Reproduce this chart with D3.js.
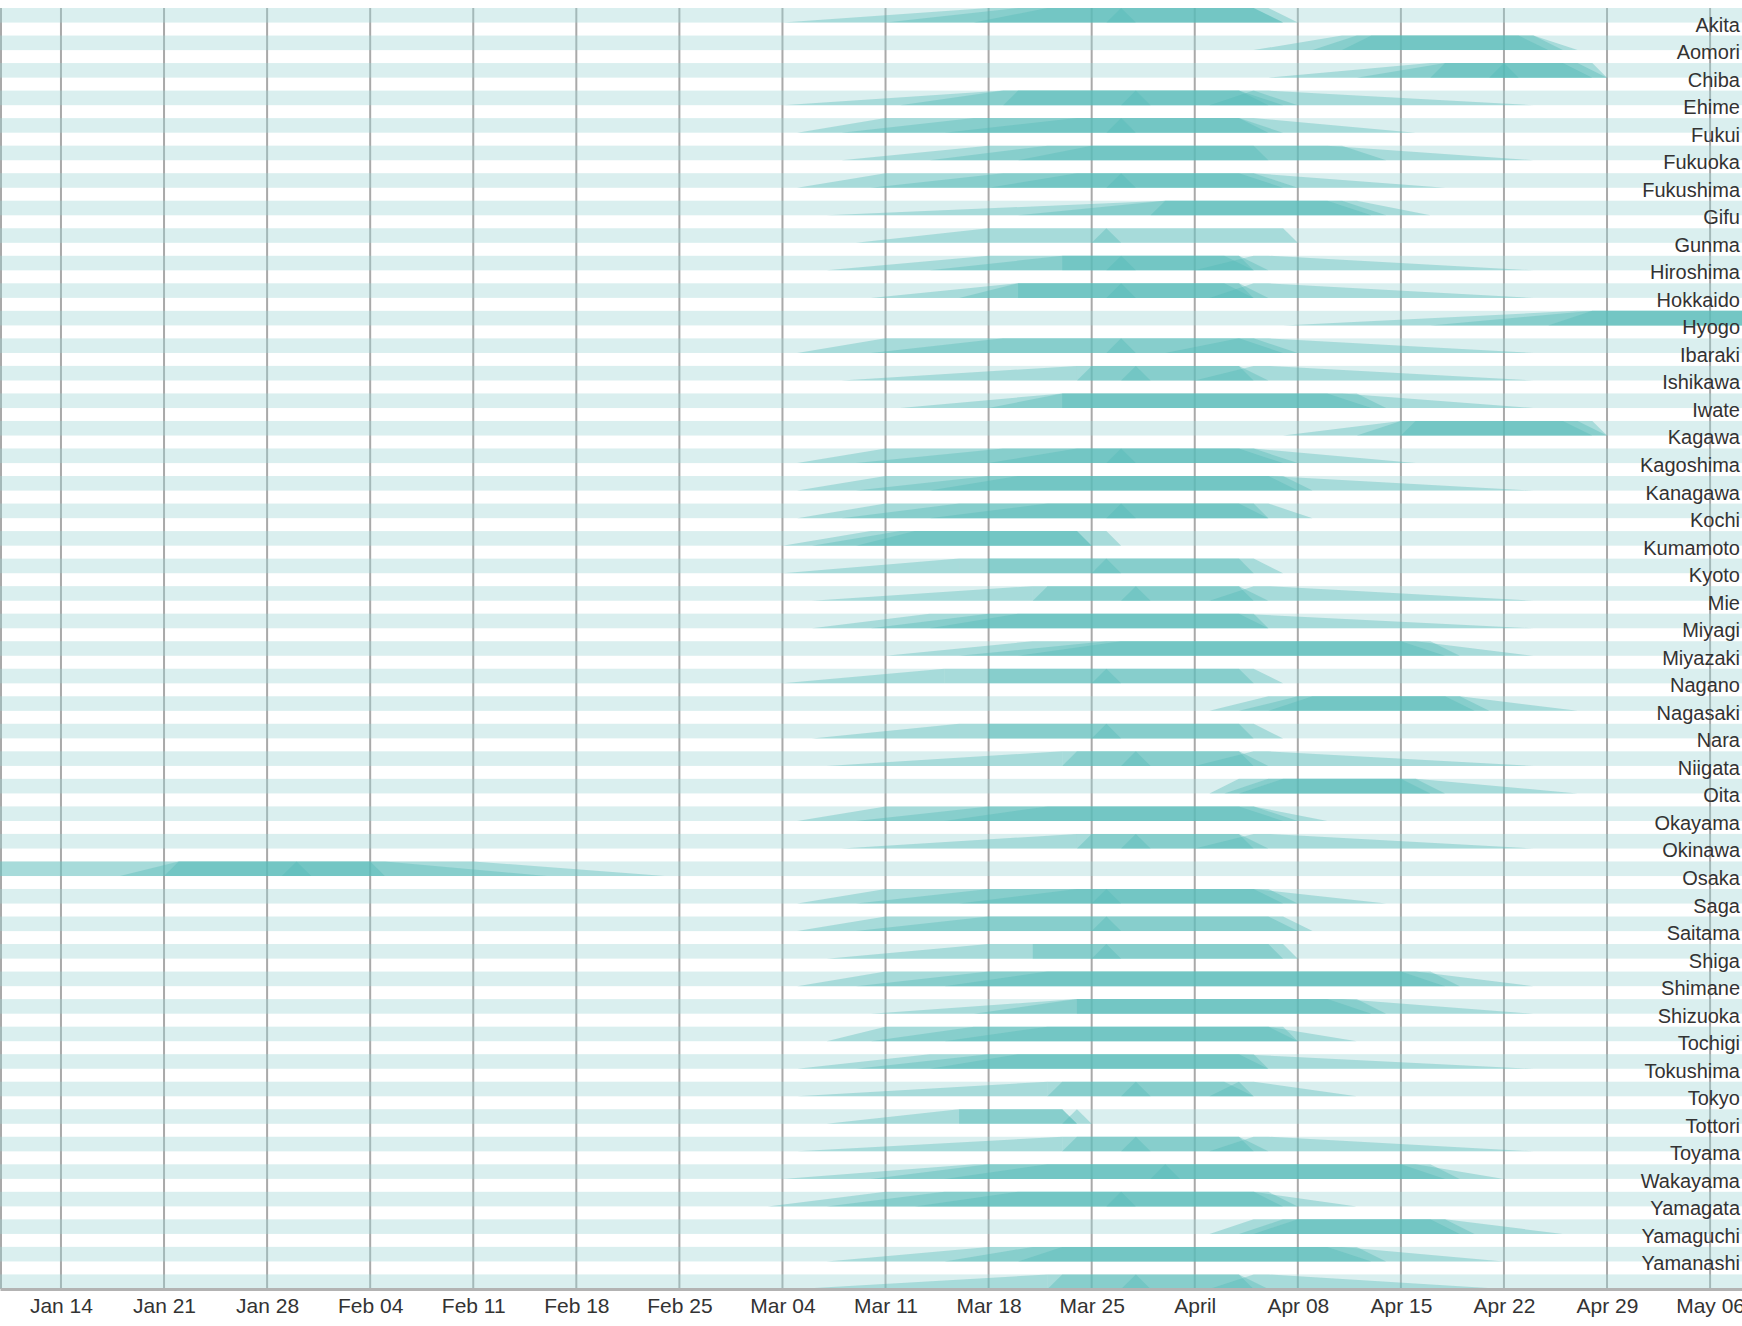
<!DOCTYPE html>
<html>
<head>
<meta charset="utf-8">
<script src="https://cdn.jsdelivr.net/npm/d3@7"></script>
<style>
  body { margin: 0; background: #fff; }
  svg text { font-family: "Liberation Sans", Arial, sans-serif; }
</style>
</head>
<body>
<svg id="chart"></svg>
<script>
const prefectures = [
  "Aichi", "Akita", "Aomori", "Chiba", "Ehime", "Fukui", "Fukuoka", "Fukushima",
  "Gifu", "Gunma", "Hiroshima", "Hokkaido", "Hyogo", "Ibaraki", "Ishikawa", "Iwate",
  "Kagawa", "Kagoshima", "Kanagawa", "Kochi", "Kumamoto", "Kyoto", "Mie", "Miyagi",
  "Miyazaki", "Nagano", "Nagasaki", "Nara", "Niigata", "Oita", "Okayama", "Okinawa",
  "Osaka", "Saga", "Saitama", "Shiga", "Shimane", "Shizuoka", "Tochigi", "Tokushima",
  "Tokyo", "Tottori", "Toyama", "Wakayama", "Yamagata", "Yamaguchi", "Yamanashi"
];

// bloom records per prefecture: [first bloom, full bloom, bloom ends, petals gone] (2018)
const aichi = [["03-04","03-18","04-06","04-08"], ["03-11","03-20","04-05","04-07"], ["03-17","03-22","04-05","04-07"], ["03-26","03-27","03-27","03-28"]];
const akita = [["04-05","04-11","04-24","04-27"], ["04-09","04-12","04-24","04-26"], ["04-11","04-13","04-23","04-25"]];
const aomori = [["04-06","04-17","04-28","04-29"], ["04-12","04-18","04-27","04-29"], ["04-17","04-18","04-26","04-28"], ["04-21","04-22","04-22","04-23"]];
const chiba = [["03-04","03-19","04-05","04-08"], ["03-12","03-19","04-04","04-07"], ["03-19","03-20","04-04","04-06"], ["03-27","03-28","03-28","03-29"], ["04-02","04-05","04-06","04-24"]];
const ehime = [["03-05","03-11","04-04","04-07"], ["03-08","03-17","04-04","04-06"], ["03-26","03-27","03-27","03-28"], ["03-15","03-24","04-05","04-16"]];
const fukui = [["03-08","03-18","04-11","04-14"], ["03-14","03-22","04-10","04-24"], ["03-20","03-25","04-05","04-06"]];
const fukuoka = [["03-05","03-11","04-05","04-08"], ["03-10","03-19","04-04","04-07"], ["03-26","03-27","03-27","03-28"], ["03-18","03-24","04-05","04-18"]];
const fukushima = [["03-07","03-30","04-12","04-17"], ["03-20","03-30","04-11","04-14"], ["03-29","03-30","04-10","04-13"]];
const gifu = [["03-09","03-18","03-18","03-18"], ["03-18","03-18","04-07","04-08"], ["03-25","03-26","03-26","03-27"]];
const gunma = [["03-07","03-18","04-04","04-06"], ["03-14","03-23","04-03","04-05"], ["03-23","03-23","04-04","04-05"], ["03-26","03-27","03-27","03-28"], ["04-01","04-05","04-06","04-24"]];
const hiroshima = [["03-10","03-20","04-04","04-06"], ["03-16","03-20","04-03","04-05"], ["03-20","03-20","04-04","04-05"], ["03-26","03-27","03-27","03-28"], ["04-02","04-05","04-06","04-24"]];
const hokkaido = [["04-07","04-27","05-12","05-14"], ["04-17","04-28","05-12","05-14"], ["04-25","04-28","05-12","05-14"]];
const hyogo = [["03-05","03-11","04-05","04-08"], ["03-10","03-19","04-04","04-07"], ["03-26","03-27","03-27","03-28"], ["03-30","04-04","04-06","04-24"]];
const ibaraki = [["03-08","03-24","03-24","03-24"], ["03-24","03-24","04-04","04-06"], ["03-24","03-25","04-04","04-05"], ["03-27","03-28","03-28","03-29"], ["04-01","04-05","04-06","04-24"]];
const ishikawa = [["03-12","03-23","04-12","04-14"], ["03-18","03-23","04-11","04-24"], ["03-23","03-23","04-10","04-13"]];
const iwate = [["04-07","04-15","04-28","04-29"], ["04-12","04-15","04-27","04-29"], ["04-15","04-16","04-26","04-28"]];
const kagawa = [["03-05","03-11","04-05","04-08"], ["03-09","03-19","04-04","04-07"], ["03-26","03-27","03-27","03-28"], ["03-18","03-24","04-05","04-16"]];
const kagoshima = [["03-05","03-11","04-07","04-09"], ["03-09","03-18","04-06","04-24"], ["03-14","03-20","04-06","04-08"]];
const kanagawa = [["03-05","03-11","04-05","04-06"], ["03-08","03-16","04-04","04-06"], ["03-26","03-27","03-27","03-28"], ["03-14","03-22","04-06","04-09"]];
const kochi = [["03-04","03-10","03-26","03-27"], ["03-06","03-12","03-24","03-25"], ["03-09","03-13","03-24","03-25"]];
const kumamoto = [["03-04","03-16","03-16","03-16"], ["03-16","03-16","04-05","04-07"], ["03-18","03-18","04-04","04-05"], ["03-25","03-26","03-26","03-27"]];
const kyoto = [["03-06","03-21","03-21","03-21"], ["03-21","03-21","04-04","04-06"], ["03-21","03-22","04-04","04-05"], ["03-27","03-28","03-28","03-29"], ["04-02","04-05","04-06","04-24"]];
const mie = [["03-06","03-14","04-05","04-06"], ["03-10","03-18","04-04","04-06"], ["03-14","03-20","04-04","04-24"]];
const miyagi = [["03-11","03-21","04-17","04-19"], ["03-16","03-26","04-16","04-24"], ["03-20","03-27","04-15","04-18"]];
const miyazaki = [["03-04","03-15","03-15","03-15"], ["03-15","03-15","04-05","04-07"], ["03-18","03-18","04-04","04-05"], ["03-25","03-26","03-26","03-27"]];
const nagano = [["04-02","04-06","04-19","04-27"], ["04-04","04-08","04-19","04-21"], ["04-06","04-09","04-18","04-20"]];
const nagasaki = [["03-06","03-16","03-16","03-16"], ["03-16","03-16","04-05","04-07"], ["03-18","03-18","04-04","04-05"], ["03-25","03-26","03-26","03-27"]];
const nara = [["03-07","03-23","03-23","03-23"], ["03-23","03-23","04-04","04-06"], ["03-23","03-24","04-04","04-05"], ["03-27","03-28","03-28","03-29"], ["04-01","04-05","04-06","04-24"]];
const niigata = [["04-02","04-04","04-16","04-27"], ["04-03","04-06","04-16","04-18"], ["04-04","04-07","04-15","04-17"]];
const oita = [["03-05","03-11","04-05","04-08"], ["03-09","03-18","04-04","04-07"], ["03-15","03-22","04-05","04-10"]];
const okayama = [["03-08","03-24","03-24","03-24"], ["03-24","03-24","04-04","04-06"], ["03-24","03-25","04-04","04-05"], ["03-27","03-28","03-28","03-29"], ["04-01","04-05","04-06","04-24"]];
const okinawa = [["01-04","01-08","02-11","02-24"], ["01-18","01-22","02-05","02-16"], ["01-21","01-22","02-04","02-05"], ["01-29","01-30","01-30","01-31"]];
const osaka = [["03-05","03-11","04-06","04-08"], ["03-09","03-18","04-05","04-07"], ["03-25","03-26","03-26","03-27"], ["03-16","03-24","04-05","04-14"]];
const saga = [["03-05","03-11","04-07","04-09"], ["03-09","03-18","04-06","04-08"], ["03-25","03-26","03-26","03-27"]];
const saitama = [["03-07","03-18","03-18","03-18"], ["03-18","03-18","04-07","04-08"], ["03-21","03-21","04-06","04-07"], ["03-25","03-26","03-26","03-27"]];
const shiga = [["03-05","03-11","04-17","04-19"], ["03-09","03-18","04-16","04-24"], ["03-15","03-22","04-15","04-18"]];
const shimane = [["03-10","03-24","04-12","04-14"], ["03-17","03-24","04-11","04-24"], ["03-24","03-24","04-10","04-13"]];
const shizuoka = [["03-07","03-11","04-07","04-08"], ["03-10","03-17","04-06","04-08"], ["03-15","03-22","04-06","04-12"]];
const tochigi = [["03-05","03-14","04-05","04-06"], ["03-09","03-18","04-04","04-06"], ["03-14","03-20","04-04","04-24"]];
const tokushima = [["03-05","03-22","03-22","03-22"], ["03-22","03-22","04-04","04-05"], ["03-22","03-23","04-03","04-05"], ["03-27","03-28","03-28","03-29"], ["04-02","04-04","04-05","04-12"]];
const tokyo = [["03-07","03-16","03-23","03-24"], ["03-16","03-16","03-23","03-24"], ["03-23","03-24","03-24","03-25"]];
const tottori = [["03-05","03-23","03-23","03-23"], ["03-23","03-23","04-04","04-06"], ["03-23","03-24","04-04","04-05"], ["03-27","03-28","03-28","03-29"], ["04-02","04-05","04-06","04-24"]];
const toyama = [["03-04","03-17","04-17","04-19"], ["03-10","03-18","04-16","04-22"], ["03-15","03-22","04-15","04-18"], ["03-29","03-30","03-30","03-31"]];
const wakayama = [["03-03","03-11","04-06","04-08"], ["03-07","03-15","04-05","04-07"], ["03-26","03-27","03-27","03-28"], ["03-13","03-20","04-05","04-12"]];
const yamagata = [["04-02","04-05","04-18","04-26"], ["04-04","04-07","04-18","04-20"], ["04-05","04-08","04-17","04-19"]];
const yamaguchi = [["03-07","03-18","04-12","04-14"], ["03-15","03-21","04-11","04-22"], ["03-20","03-23","04-10","04-13"]];
const yamanashi = [["03-05","03-22","03-22","03-22"], ["03-22","03-22","04-04","04-06"], ["03-22","03-23","04-04","04-05"], ["03-27","03-28","03-28","03-29"], ["04-02","04-05","04-06","04-22"]];

const bloomByPrefecture = [
  aichi, akita, aomori, chiba, ehime, fukui, fukuoka, fukushima,
  gifu, gunma, hiroshima, hokkaido, hyogo, ibaraki, ishikawa, iwate,
  kagawa, kagoshima, kanagawa, kochi, kumamoto, kyoto, mie, miyagi,
  miyazaki, nagano, nagasaki, nara, niigata, oita, okayama, okinawa,
  osaka, saga, saitama, shiga, shimane, shizuoka, tochigi, tokushima,
  tokyo, tottori, toyama, wakayama, yamagata, yamaguchi, yamanashi
];

const width = 1742, height = 1326;
const plotTop = 8, plotBottom = 1289;

const parseDay = d3.timeParse("%Y-%m-%d");
const day = (s) => parseDay("2018-" + s);

const svg = d3.select("#chart").attr("width", width).attr("height", height);

const x = d3.scaleTime()
  .domain([new Date(2018, 0, 9, 20, 38), new Date(2018, 4, 8, 4, 0)])
  .range([0, width]);

const y = d3.scaleBand()
  .domain(prefectures)
  .range([plotTop, plotBottom])
  .paddingInner(0.47)
  .paddingOuter(0);

const weeks = x.ticks(d3.timeWeek.every(1));

// weekly grid lines, under the bands
svg.append("g")
  .selectAll("line")
  .data(weeks)
  .join("line")
  .attr("x1", (d) => x(d))
  .attr("x2", (d) => x(d))
  .attr("y1", plotTop)
  .attr("y2", plotBottom)
  .attr("stroke", "#a9a9a9")
  .attr("stroke-width", 2);

// left edge
svg.append("line")
  .attr("x1", 1).attr("x2", 1)
  .attr("y1", plotTop).attr("y2", plotBottom)
  .attr("stroke", "#a9a9a9")
  .attr("stroke-width", 2);

// one light band per prefecture
svg.append("g")
  .selectAll("rect")
  .data(prefectures)
  .join("rect")
  .attr("x", 0)
  .attr("width", width)
  .attr("y", (d) => y(d))
  .attr("height", y.bandwidth())
  .attr("fill", "#9ed6d6")
  .attr("fill-opacity", 0.38);

// bloom shapes: rise from first bloom to full bloom, flat, then fall
const shapes = prefectures.flatMap((p, i) =>
  bloomByPrefecture[i].map((r) => ({ prefecture: p, dates: r.map(day) }))
);

svg.append("g")
  .selectAll("path")
  .data(shapes)
  .join("path")
  .attr("d", (d) => {
    const top = y(d.prefecture);
    const bottom = top + y.bandwidth();
    const [a, b, c, e] = d.dates.map((t) => x(t));
    return `M${a},${bottom}L${b},${top}L${c},${top}L${e},${bottom}Z`;
  })
  .attr("fill", "#52b9b5")
  .attr("fill-opacity", 0.37);

// x axis
const xAxis = d3.axisBottom(x)
  .ticks(d3.timeWeek.every(1))
  .tickSize(0)
  .tickSizeOuter(0)
  .tickPadding(9);

const gx = svg.append("g")
  .attr("transform", `translate(0,${plotBottom})`)
  .call(xAxis)
  .attr("font-size", 21)
  .attr("font-family", "'Liberation Sans', Arial, sans-serif");

gx.select(".domain").attr("stroke", "#b3b3b3").attr("stroke-width", 3);
gx.selectAll(".tick text").attr("fill", "#333");

// prefecture labels sit just above their band; the first one has no room above the plot
const labelSize = 20;
svg.append("g")
  .selectAll("text")
  .data(prefectures.filter((p) => y(p) - 4 - labelSize * 0.72 >= 0))
  .join("text")
  .attr("x", 1740)
  .attr("y", (d) => y(d) - 4)
  .attr("text-anchor", "end")
  .attr("font-size", labelSize)
  .attr("fill", "#333")
  .text((d) => d);
</script>
</body>
</html>
